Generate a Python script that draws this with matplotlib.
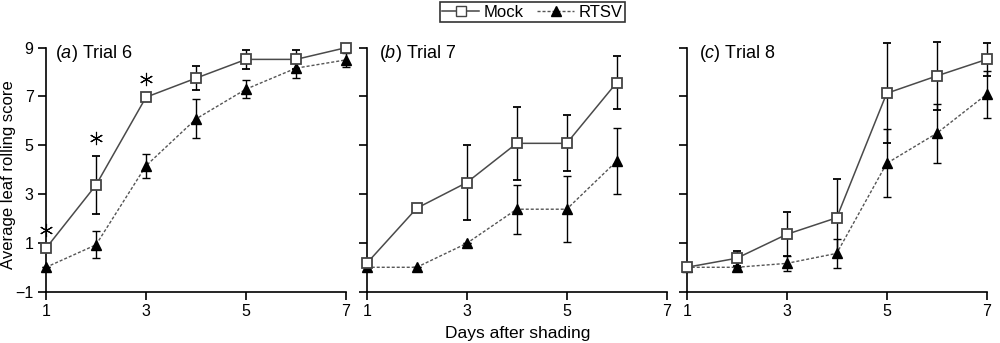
import numpy as np
import matplotlib.pyplot as plt

plt.rcParams['font.family'] = ['Liberation Sans', 'DejaVu Sans']
plt.rcParams['mathtext.fontset'] = 'custom'
plt.rcParams['mathtext.it'] = 'Liberation Sans:italic'
plt.rcParams['mathtext.rm'] = 'Liberation Sans'

# Datos (dias despues del sombreado)
dias = [1, 2, 3, 4, 5, 6, 7]
dias_b = [1, 2, 3, 4, 5, 6]

# Ensayo 6
mock_a = [0.78, 3.37, 6.97, 7.75, 8.52, 8.52, 9.0]
mock_a_err = [0.0, 1.18, 0.0, 0.5, 0.4, 0.4, 0.0]
rtsv_a = [0.0, 0.92, 4.16, 6.08, 7.3, 8.16, 8.5]
rtsv_a_err = [0.0, 0.55, 0.5, 0.8, 0.37, 0.42, 0.3]
sig_a = [1, 2, 3]  # dias con asterisco

# Ensayo 7
mock_b = [0.16, 2.42, 3.47, 5.08, 5.08, 7.57]
mock_b_err = [0.0, 0.0, 1.53, 1.5, 1.15, 1.1]
rtsv_b = [0.0, 0.0, 0.98, 2.38, 2.38, 4.35]
rtsv_b_err = [0.0, 0.0, 0.0, 1.0, 1.35, 1.35]

# Ensayo 8
mock_c = [0.0, 0.37, 1.35, 2.03, 7.13, 7.84, 8.52]
mock_c_err = [0.0, 0.3, 0.9, 1.6, 2.05, 1.38, 0.67]
rtsv_c = [0.0, 0.0, 0.16, 0.57, 4.26, 5.49, 7.09]
rtsv_c_err = [0.0, 0.0, 0.3, 0.6, 1.4, 1.2, 0.97]

paneles = [
    ('a', 'Trial 6', dias, mock_a, mock_a_err, rtsv_a, rtsv_a_err),
    ('b', 'Trial 7', dias_b, mock_b, mock_b_err, rtsv_b, rtsv_b_err),
    ('c', 'Trial 8', dias, mock_c, mock_c_err, rtsv_c, rtsv_c_err),
]

fig = plt.figure(figsize=(10, 3.43), dpi=100)
lefts = [0.046, 0.3667, 0.6867]

for i, (letra, titulo, x, m, me, r, re_) in enumerate(paneles):
    ax = fig.add_axes([lefts[i], 0.1496, 0.30, 0.7114])
    ax.errorbar(x, r, yerr=re_, color='#555555', ls=(0, (2.2, 1.4)), lw=1.0,
                marker='^', ms=7.5, mfc='black', mec='black',
                ecolor='black', elinewidth=1.0, capsize=3, capthick=1.0,
                clip_on=False, zorder=3)
    ax.errorbar(x, m, yerr=me, color='#4a4a4a', ls='-', lw=1.1,
                marker='s', ms=7.5, mfc='white', mec='#444444', mew=1.3,
                ecolor='black', elinewidth=1.0, capsize=3, capthick=1.0,
                clip_on=False, zorder=4)
    if letra == 'a':
        idx = [dias.index(d) for d in sig_a]
        ys = [m[k] + me[k] + 0.75 for k in idx]
        ax.plot(sig_a, ys, ls='none', marker=(6, 2, 0), ms=9.5, mew=0.8,
                color='black', clip_on=False, zorder=5)
    ax.set_xlim(1, 7)
    ax.set_ylim(-1, 9)
    ax.set_xticks([1, 3, 5, 7])
    ax.set_yticks([-1, 1, 3, 5, 7, 9])
    ax.set_yticklabels(['\u22121', '1', '3', '5', '7', '9'])
    ax.spines['top'].set_visible(False)
    ax.spines['right'].set_visible(False)
    for s in ('left', 'bottom'):
        ax.spines[s].set_linewidth(1.2)
    ax.tick_params(direction='out', length=6, width=1.2, labelsize=11.5, pad=3)
    if i > 0:
        ax.tick_params(labelleft=False)
    ax.patch.set_alpha(0)
    ax.text(0.03 if i == 0 else 0.04, 0.975, f'(${letra}$) {titulo}',
            transform=ax.transAxes, fontsize=13, va='center', ha='left')
    if i == 0:
        ax.set_ylabel('Average leaf rolling score', fontsize=12)
        ax.yaxis.set_label_coords(-0.1, 0.48)

fig.text(0.518, 0.029, 'Days after shading', ha='center', va='center', fontsize=12.5)

h1, = plt.plot([], [], color='#444444', marker='s', ms=7, mfc='white', mec='#444444', lw=1.1)
h2, = plt.plot([], [], color='#555555', ls=(0, (2.2, 1.4)), marker='^', ms=6.5, mfc='black', mec='black', lw=1.0)
leg = fig.legend([h1, h2], ['Mock', 'RTSV'], loc='center', bbox_to_anchor=(0.5325, 0.965),
                 ncol=2, fontsize=12, frameon=True, fancybox=False, handlelength=2.2,
                 handletextpad=0.3, columnspacing=0.8, borderpad=0.15, borderaxespad=0)
leg.get_frame().set_edgecolor('black')
leg.get_frame().set_linewidth(1.2)

fig.savefig('out.png', dpi=100)
